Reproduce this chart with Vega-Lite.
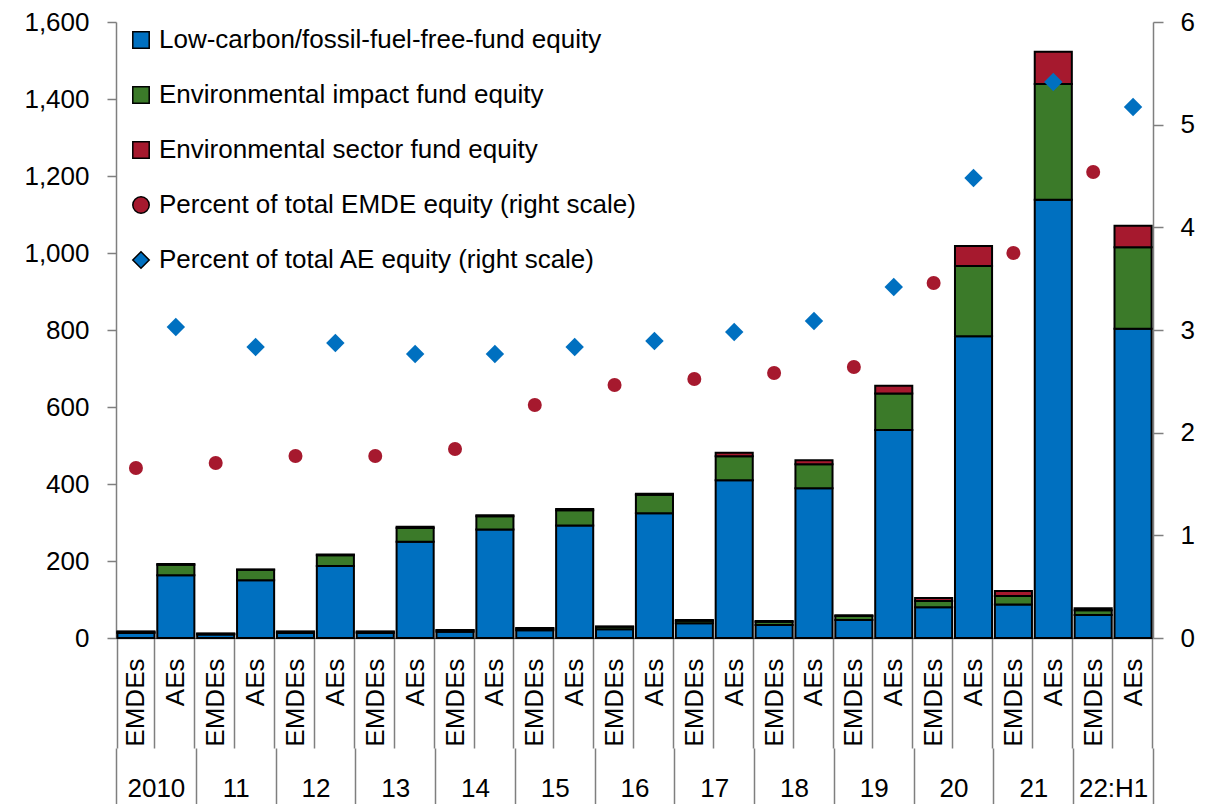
{
  "$schema": "https://vega.github.io/schema/vega-lite/v6.json",
  "autosize": {"type": "none"},
  "padding": {"left": 116, "top": 22, "right": 55, "bottom": 166},
  "width": 1037,
  "height": 616,
  "background": "white",
  "config": {
    "view": {"stroke": null},
    "font": "Liberation Sans",
    "axis": {"labelFont": "Liberation Sans", "labelFontSize": 26, "labelColor": "black", "grid": false, "title": null, "domainColor": "#7f7f7f", "tickColor": "#7f7f7f", "domainWidth": 1.5, "tickWidth": 1.5},
    "legend": {"labelFont": "Liberation Sans", "labelFontSize": 26, "labelColor": "black", "labelLimit": 800}
  },
  "datasets": {
    "bars": [
      {"cat": "2010|EMDEs", "series": "Low-carbon/fossil-fuel-free-fund equity", "value": 13},
      {"cat": "2010|EMDEs", "series": "Environmental impact fund equity", "value": 3},
      {"cat": "2010|EMDEs", "series": "Environmental sector fund equity", "value": 1},
      {"cat": "2010|AEs", "series": "Low-carbon/fossil-fuel-free-fund equity", "value": 163},
      {"cat": "2010|AEs", "series": "Environmental impact fund equity", "value": 27},
      {"cat": "2010|AEs", "series": "Environmental sector fund equity", "value": 2},
      {"cat": "11|EMDEs", "series": "Low-carbon/fossil-fuel-free-fund equity", "value": 9},
      {"cat": "11|EMDEs", "series": "Environmental impact fund equity", "value": 2},
      {"cat": "11|EMDEs", "series": "Environmental sector fund equity", "value": 1},
      {"cat": "11|AEs", "series": "Low-carbon/fossil-fuel-free-fund equity", "value": 150},
      {"cat": "11|AEs", "series": "Environmental impact fund equity", "value": 27},
      {"cat": "11|AEs", "series": "Environmental sector fund equity", "value": 1},
      {"cat": "12|EMDEs", "series": "Low-carbon/fossil-fuel-free-fund equity", "value": 13},
      {"cat": "12|EMDEs", "series": "Environmental impact fund equity", "value": 3},
      {"cat": "12|EMDEs", "series": "Environmental sector fund equity", "value": 1},
      {"cat": "12|AEs", "series": "Low-carbon/fossil-fuel-free-fund equity", "value": 187},
      {"cat": "12|AEs", "series": "Environmental impact fund equity", "value": 28},
      {"cat": "12|AEs", "series": "Environmental sector fund equity", "value": 2},
      {"cat": "13|EMDEs", "series": "Low-carbon/fossil-fuel-free-fund equity", "value": 13},
      {"cat": "13|EMDEs", "series": "Environmental impact fund equity", "value": 3},
      {"cat": "13|EMDEs", "series": "Environmental sector fund equity", "value": 1},
      {"cat": "13|AEs", "series": "Low-carbon/fossil-fuel-free-fund equity", "value": 250},
      {"cat": "13|AEs", "series": "Environmental impact fund equity", "value": 36},
      {"cat": "13|AEs", "series": "Environmental sector fund equity", "value": 3},
      {"cat": "14|EMDEs", "series": "Low-carbon/fossil-fuel-free-fund equity", "value": 16},
      {"cat": "14|EMDEs", "series": "Environmental impact fund equity", "value": 4},
      {"cat": "14|EMDEs", "series": "Environmental sector fund equity", "value": 1},
      {"cat": "14|AEs", "series": "Low-carbon/fossil-fuel-free-fund equity", "value": 282},
      {"cat": "14|AEs", "series": "Environmental impact fund equity", "value": 34},
      {"cat": "14|AEs", "series": "Environmental sector fund equity", "value": 3},
      {"cat": "15|EMDEs", "series": "Low-carbon/fossil-fuel-free-fund equity", "value": 20},
      {"cat": "15|EMDEs", "series": "Environmental impact fund equity", "value": 5},
      {"cat": "15|EMDEs", "series": "Environmental sector fund equity", "value": 1},
      {"cat": "15|AEs", "series": "Low-carbon/fossil-fuel-free-fund equity", "value": 292},
      {"cat": "15|AEs", "series": "Environmental impact fund equity", "value": 40},
      {"cat": "15|AEs", "series": "Environmental sector fund equity", "value": 3},
      {"cat": "16|EMDEs", "series": "Low-carbon/fossil-fuel-free-fund equity", "value": 23},
      {"cat": "16|EMDEs", "series": "Environmental impact fund equity", "value": 6},
      {"cat": "16|EMDEs", "series": "Environmental sector fund equity", "value": 1},
      {"cat": "16|AEs", "series": "Low-carbon/fossil-fuel-free-fund equity", "value": 324},
      {"cat": "16|AEs", "series": "Environmental impact fund equity", "value": 48},
      {"cat": "16|AEs", "series": "Environmental sector fund equity", "value": 3},
      {"cat": "17|EMDEs", "series": "Low-carbon/fossil-fuel-free-fund equity", "value": 38},
      {"cat": "17|EMDEs", "series": "Environmental impact fund equity", "value": 7},
      {"cat": "17|EMDEs", "series": "Environmental sector fund equity", "value": 2},
      {"cat": "17|AEs", "series": "Low-carbon/fossil-fuel-free-fund equity", "value": 410},
      {"cat": "17|AEs", "series": "Environmental impact fund equity", "value": 62},
      {"cat": "17|AEs", "series": "Environmental sector fund equity", "value": 9},
      {"cat": "18|EMDEs", "series": "Low-carbon/fossil-fuel-free-fund equity", "value": 34},
      {"cat": "18|EMDEs", "series": "Environmental impact fund equity", "value": 8},
      {"cat": "18|EMDEs", "series": "Environmental sector fund equity", "value": 2},
      {"cat": "18|AEs", "series": "Low-carbon/fossil-fuel-free-fund equity", "value": 389},
      {"cat": "18|AEs", "series": "Environmental impact fund equity", "value": 62},
      {"cat": "18|AEs", "series": "Environmental sector fund equity", "value": 11},
      {"cat": "19|EMDEs", "series": "Low-carbon/fossil-fuel-free-fund equity", "value": 47},
      {"cat": "19|EMDEs", "series": "Environmental impact fund equity", "value": 10},
      {"cat": "19|EMDEs", "series": "Environmental sector fund equity", "value": 2},
      {"cat": "19|AEs", "series": "Low-carbon/fossil-fuel-free-fund equity", "value": 540},
      {"cat": "19|AEs", "series": "Environmental impact fund equity", "value": 95},
      {"cat": "19|AEs", "series": "Environmental sector fund equity", "value": 20},
      {"cat": "20|EMDEs", "series": "Low-carbon/fossil-fuel-free-fund equity", "value": 80},
      {"cat": "20|EMDEs", "series": "Environmental impact fund equity", "value": 16},
      {"cat": "20|EMDEs", "series": "Environmental sector fund equity", "value": 8},
      {"cat": "20|AEs", "series": "Low-carbon/fossil-fuel-free-fund equity", "value": 784},
      {"cat": "20|AEs", "series": "Environmental impact fund equity", "value": 182},
      {"cat": "20|AEs", "series": "Environmental sector fund equity", "value": 52},
      {"cat": "21|EMDEs", "series": "Low-carbon/fossil-fuel-free-fund equity", "value": 87},
      {"cat": "21|EMDEs", "series": "Environmental impact fund equity", "value": 22},
      {"cat": "21|EMDEs", "series": "Environmental sector fund equity", "value": 13},
      {"cat": "21|AEs", "series": "Low-carbon/fossil-fuel-free-fund equity", "value": 1138},
      {"cat": "21|AEs", "series": "Environmental impact fund equity", "value": 301},
      {"cat": "21|AEs", "series": "Environmental sector fund equity", "value": 84},
      {"cat": "22:H1|EMDEs", "series": "Low-carbon/fossil-fuel-free-fund equity", "value": 60},
      {"cat": "22:H1|EMDEs", "series": "Environmental impact fund equity", "value": 12},
      {"cat": "22:H1|EMDEs", "series": "Environmental sector fund equity", "value": 5},
      {"cat": "22:H1|AEs", "series": "Low-carbon/fossil-fuel-free-fund equity", "value": 803},
      {"cat": "22:H1|AEs", "series": "Environmental impact fund equity", "value": 212},
      {"cat": "22:H1|AEs", "series": "Environmental sector fund equity", "value": 56}
    ],
    "pcts": [
      {"cat": "2010|EMDEs", "series": "Percent of total EMDE equity (right scale)", "pct": 1.656},
      {"cat": "11|EMDEs", "series": "Percent of total EMDE equity (right scale)", "pct": 1.704},
      {"cat": "12|EMDEs", "series": "Percent of total EMDE equity (right scale)", "pct": 1.773},
      {"cat": "13|EMDEs", "series": "Percent of total EMDE equity (right scale)", "pct": 1.773},
      {"cat": "14|EMDEs", "series": "Percent of total EMDE equity (right scale)", "pct": 1.841},
      {"cat": "15|EMDEs", "series": "Percent of total EMDE equity (right scale)", "pct": 2.269},
      {"cat": "16|EMDEs", "series": "Percent of total EMDE equity (right scale)", "pct": 2.464},
      {"cat": "17|EMDEs", "series": "Percent of total EMDE equity (right scale)", "pct": 2.523},
      {"cat": "18|EMDEs", "series": "Percent of total EMDE equity (right scale)", "pct": 2.581},
      {"cat": "19|EMDEs", "series": "Percent of total EMDE equity (right scale)", "pct": 2.64},
      {"cat": "20|EMDEs", "series": "Percent of total EMDE equity (right scale)", "pct": 3.458},
      {"cat": "21|EMDEs", "series": "Percent of total EMDE equity (right scale)", "pct": 3.75},
      {"cat": "22:H1|EMDEs", "series": "Percent of total EMDE equity (right scale)", "pct": 4.539},
      {"cat": "2010|AEs", "series": "Percent of total AE equity (right scale)", "pct": 3.029},
      {"cat": "11|AEs", "series": "Percent of total AE equity (right scale)", "pct": 2.834},
      {"cat": "12|AEs", "series": "Percent of total AE equity (right scale)", "pct": 2.873},
      {"cat": "13|AEs", "series": "Percent of total AE equity (right scale)", "pct": 2.766},
      {"cat": "14|AEs", "series": "Percent of total AE equity (right scale)", "pct": 2.766},
      {"cat": "15|AEs", "series": "Percent of total AE equity (right scale)", "pct": 2.834},
      {"cat": "16|AEs", "series": "Percent of total AE equity (right scale)", "pct": 2.893},
      {"cat": "17|AEs", "series": "Percent of total AE equity (right scale)", "pct": 2.98},
      {"cat": "18|AEs", "series": "Percent of total AE equity (right scale)", "pct": 3.088},
      {"cat": "19|AEs", "series": "Percent of total AE equity (right scale)", "pct": 3.419},
      {"cat": "20|AEs", "series": "Percent of total AE equity (right scale)", "pct": 4.48},
      {"cat": "21|AEs", "series": "Percent of total AE equity (right scale)", "pct": 5.415},
      {"cat": "22:H1|AEs", "series": "Percent of total AE equity (right scale)", "pct": 5.172}
    ],
    "years": [
      {"year": "2010"}, {"year": "11"}, {"year": "12"}, {"year": "13"}, {"year": "14"}, {"year": "15"}, {"year": "16"},
      {"year": "17"}, {"year": "18"}, {"year": "19"}, {"year": "20"}, {"year": "21"}, {"year": "22:H1"}
    ]
  },
  "layer": [
    {
      "layer": [
        {
          "data": {"name": "bars"},
          "transform": [
            {"calculate": "indexof(['Low-carbon/fossil-fuel-free-fund equity','Environmental impact fund equity','Environmental sector fund equity'], datum.series)", "as": "k"}
          ],
          "mark": {"type": "bar", "stroke": "black", "strokeWidth": 2},
          "encoding": {
            "x": {
              "field": "cat", "type": "nominal",
              "scale": {
                "domain": ["2010|EMDEs","2010|AEs","11|EMDEs","11|AEs","12|EMDEs","12|AEs","13|EMDEs","13|AEs","14|EMDEs","14|AEs","15|EMDEs","15|AEs","16|EMDEs","16|AEs","17|EMDEs","17|AEs","18|EMDEs","18|AEs","19|EMDEs","19|AEs","20|EMDEs","20|AEs","21|EMDEs","21|AEs","22:H1|EMDEs","22:H1|AEs"],
                "paddingInner": 0.07, "paddingOuter": 0.035
              },
              "axis": {
                "orient": "bottom", "labelAngle": -90, "labelAlign": "right", "labelBaseline": "middle",
                "labelExpr": "split(datum.value, '|')[1]", "tickBand": "extent", "tickSize": 110, "labelPadding": -90
              }
            },
            "y": {
              "field": "value", "type": "quantitative", "stack": "zero",
              "scale": {"domain": [0, 1600], "nice": false},
              "axis": {"orient": "left", "values": [0,200,400,600,800,1000,1200,1400,1600], "format": ",.0f", "tickSize": 9, "labelPadding": 18}
            },
            "order": {"field": "k", "type": "quantitative"},
            "color": {
              "field": "series", "type": "nominal",
              "scale": {
                "domain": ["Low-carbon/fossil-fuel-free-fund equity","Environmental impact fund equity","Environmental sector fund equity","Percent of total EMDE equity (right scale)","Percent of total AE equity (right scale)"],
                "range": ["#0070C0","#3B7A29","#A6192E","#A6192E","#0070C0"]
              },
              "legend": {
                "title": null, "orient": "none", "legendX": 12, "legendY": 5, "padding": 0,
                "rowPadding": 29, "labelOffset": 5, "symbolSize": 270,
                "encode": {
                  "symbols": {"update": {
                    "size": {"signal": "datum.value === 'Percent of total EMDE equity (right scale)' ? 140 : 270"},
                    "stroke": {"signal": "indexof(datum.value, 'Percent') === 0 ? 'transparent' : 'black'"},
                    "strokeWidth": {"value": 1.5},
                    "opacity": {"value": 1},
                    "fillOpacity": {"value": 1}
                  }}
                }
              }
            }
          }
        },
        {
          "data": {"name": "pcts"},
          "layer": [
            {
              "transform": [{"filter": "datum.series === 'Percent of total EMDE equity (right scale)'"}],
              "mark": {"type": "point", "filled": true, "opacity": 1, "size": 196},
              "encoding": {}
            },
            {
              "transform": [{"filter": "datum.series === 'Percent of total AE equity (right scale)'"}],
              "mark": {"type": "point", "filled": true, "opacity": 1, "size": 340},
              "encoding": {}
            }
          ],
          "encoding": {
            "x": {"field": "cat", "type": "nominal"},
            "y": {
              "field": "pct", "type": "quantitative",
              "scale": {"domain": [0, 6], "nice": false},
              "axis": {"orient": "right", "values": [0,1,2,3,4,5,6], "tickSize": 10, "labelPadding": 17}
            },
            "color": {
              "field": "series", "type": "nominal",
              "scale": {
                "domain": ["Low-carbon/fossil-fuel-free-fund equity","Environmental impact fund equity","Environmental sector fund equity","Percent of total EMDE equity (right scale)","Percent of total AE equity (right scale)"],
                "range": ["#0070C0","#3B7A29","#A6192E","#A6192E","#0070C0"]
              },
              "legend": null
            },
            "shape": {
              "field": "series", "type": "nominal",
              "scale": {
                "domain": ["Low-carbon/fossil-fuel-free-fund equity","Environmental impact fund equity","Environmental sector fund equity","Percent of total EMDE equity (right scale)","Percent of total AE equity (right scale)"],
                "range": ["square","square","square","circle","diamond"]
              },
              "legend": null
            }
          }
        }
      ],
      "resolve": {"scale": {"y": "independent"}}
    },
    {
      "data": {"name": "years"},
      "mark": {"type": "rule", "strokeOpacity": 0},
      "encoding": {
        "x": {
          "field": "year", "type": "nominal",
          "scale": {"type": "band", "domain": ["2010","11","12","13","14","15","16","17","18","19","20","21","22:H1"], "paddingInner": 0, "paddingOuter": 0},
          "axis": {"orient": "bottom", "offset": 110, "domain": false, "tickBand": "extent", "tickSize": 56, "labelPadding": -29, "labelAngle": 0}
        }
      }
    }
  ],
  "resolve": {"scale": {"x": "independent"}}
}
